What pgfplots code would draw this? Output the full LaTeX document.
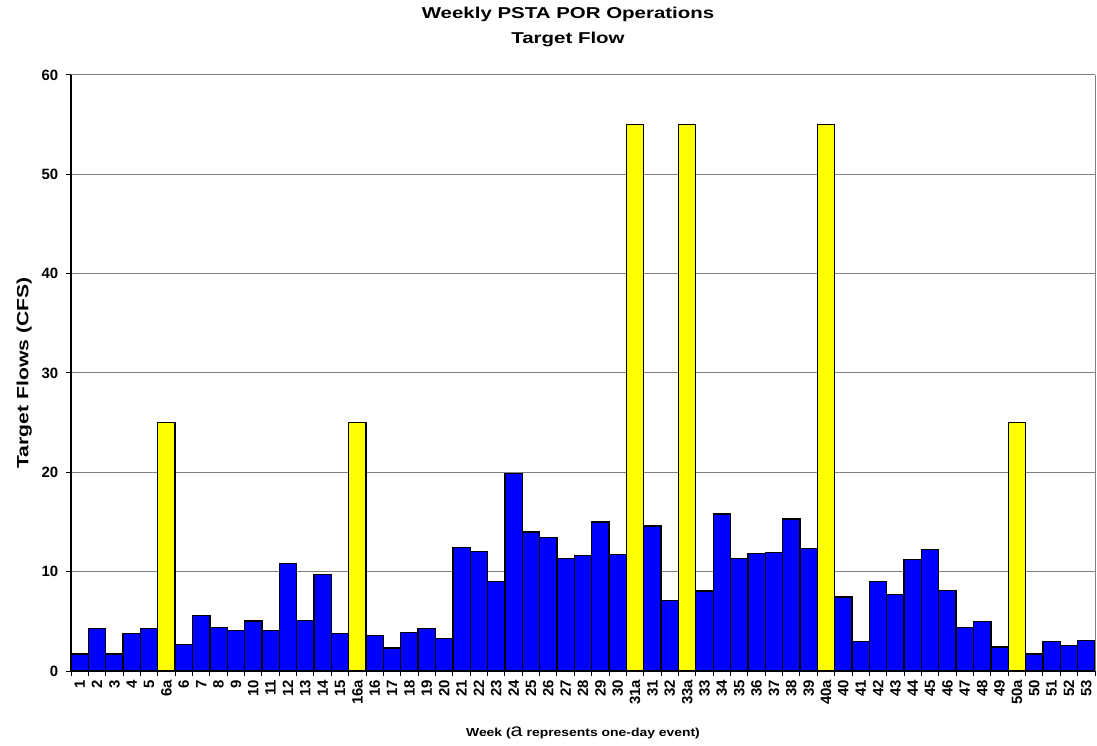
\documentclass[border=0pt]{standalone}
\usepackage{fontspec}
\setmainfont{Liberation Sans}
\newfontfamily\wideA[FakeStretch=1.3]{Liberation Sans}
\newfontfamily\wideB[FakeStretch=1.2]{Liberation Sans}
\usepackage{pgfplots}
\pgfplotsset{compat=1.18}
\usetikzlibrary{calc}
\definecolor{barblue}{RGB}{0,0,255}
\definecolor{baryellow}{RGB}{255,255,0}
\definecolor{gridgray}{RGB}{128,128,128}
\begin{document}
\begin{tikzpicture}
\begin{axis}[name=ax, scale only axis, width=768pt, height=447pt,
  xmin=-0.5, xmax=58.5, ymin=0, ymax=60,
  ytick={0,10,...,60},
  xtick={-0.5,0.5,...,58.5}, xticklabels={},
  extra x ticks={0,...,58},
  extra x tick labels={1,2,3,4,5,6a,6,7,8,9,10,11,12,13,14,15,16a,16,17,18,19,20,21,22,23,24,25,26,27,28,29,30,31a,31,32,33a,33,34,35,36,37,38,39,40a,40,41,42,43,44,45,46,47,48,49,50a,50,51,52,53},
  extra x tick style={major tick length=0pt, grid=none,
    tick label style={rotate=90, anchor=east, yshift=0pt, xshift=-3pt}},
  axis x line*=bottom, axis y line*=left,
  axis line style={black, line width=0.9pt},
  tick align=outside, major tick length=3.5pt,
  tick style={black, line width=0.75pt},
  ymajorgrids, major grid style={gridgray, line width=0.75pt},
  /pgf/number format/assume math mode=true,
  tick label style={font=\bfseries\fontsize{11.2}{11}\selectfont},
  yticklabel style={xshift=-2.5pt},
  after end axis/.code={\draw[gridgray, line width=0.75pt] (rel axis cs:1,0) -- (rel axis cs:1,1);},
]
\addplot[ybar, bar width=1, bar shift=0pt, fill=barblue, draw=black, line width=1pt] coordinates {
(0,1.7) (1,4.3) (2,1.7) (3,3.8) (4,4.3)
(6,2.7) (7,5.6) (8,4.4) (9,4.1) (10,5.05) (11,4.1) (12,10.8) (13,5.1) (14,9.7) (15,3.8)
(17,3.6) (18,2.3) (19,3.85) (20,4.3) (21,3.25) (22,12.4) (23,12.0) (24,9.0) (25,19.9) (26,14.0)
(27,13.45) (28,11.3) (29,11.6) (30,15.0) (31,11.7)
(33,14.6) (34,7.1)
(36,8.05) (37,15.8) (38,11.3) (39,11.85) (40,11.9) (41,15.3) (42,12.35)
(44,7.45) (45,2.95) (46,9.0) (47,7.7) (48,11.2) (49,12.2) (50,8.1) (51,4.4) (52,5.0) (53,2.4)
(55,1.7) (56,2.95) (57,2.6) (58,3.1)
};
\addplot[ybar, bar width=1, bar shift=0pt, fill=baryellow, draw=black, line width=1pt] coordinates {
(5,25) (16,25) (32,55) (35,55) (43,55) (54,25)
};
\end{axis}
\node[anchor=base, font=\wideA\bfseries\fontsize{11.8}{13}\selectfont] at ($(ax.north west)+(372.75pt,42.5pt)$) {Weekly PSTA POR Operations};
\node[anchor=base, font=\wideA\bfseries\fontsize{11.8}{13}\selectfont] at ($(ax.north west)+(372.75pt,23.25pt)$) {Target Flow};
\node[anchor=base, rotate=90, font=\wideA\bfseries\fontsize{12.2}{13}\selectfont] at ($(ax.west)+(-32pt,0pt)$) {Target Flows (CFS)};
\node[anchor=base, font=\wideB\bfseries\fontsize{8.7}{10}\selectfont] at ($(ax.south)+(0pt,-48.75pt)$) {Week ({\mdseries\fontsize{13.5}{13.5}\selectfont a} represents one-day event)};
\pgfresetboundingbox
\path[use as bounding box] ($(ax.south west)+(-53.25pt,-55.5pt)$) rectangle ($(ax.north east)+(1.5pt,56.25pt)$);
\end{tikzpicture}
\end{document}
